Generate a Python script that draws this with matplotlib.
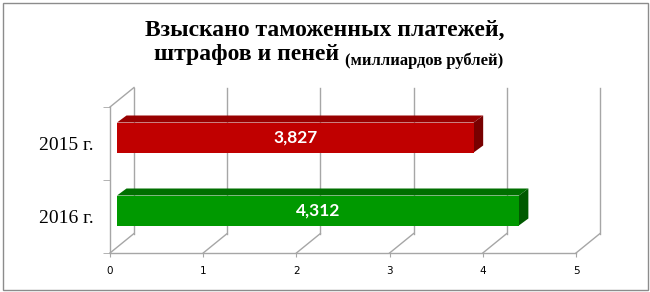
import matplotlib
matplotlib.use("Agg")
import matplotlib.pyplot as plt
from matplotlib.patches import Polygon, Rectangle

years = ["2015 г.", "2016 г."]
values = [3.827, 4.312]
value_labels = ["3,827", "4,312"]
x_ticks = [0, 1, 2, 3, 4, 5]

front_colors = ["#C00000", "#009900"]
top_colors = ["#980000", "#006F00"]
side_colors = ["#780000", "#005A00"]
grid_color = "#A6A6A6"

W, H = 650, 292
fig = plt.figure(figsize=(W / 100, H / 100), dpi=100)

# front plane of the 3d box, pixel box
ax_l, ax_r, ax_t, ax_b = 110, 576, 107, 253
ax = fig.add_axes([ax_l / W, 1 - ax_b / H, (ax_r - ax_l) / W, (ax_b - ax_t) / H])
ax.set_xlim(0, 5)
ax.set_ylim(0, 2)

px_x = (ax_r - ax_l) / 5.0   # pixels per x unit
px_y = (ax_b - ax_t) / 2.0   # pixels per y unit
# depth of the wall, of bar front and of bar back (pixels -> data)
wall_dx, wall_dy = 24 / px_x, 19.5 / px_y
bar_dx, bar_dy = 7 / px_x, 6 / px_y
bdep_dx, bdep_dy = 9.5 / px_x, 7 / px_y
bar_h = 30 / px_y

# back wall gridlines + floor diagonals
for x in x_ticks:
    ax.plot([x + wall_dx, x + wall_dx], [wall_dy, 2 + wall_dy], color=grid_color, lw=1, clip_on=False, zorder=1)
    ax.plot([x, x + wall_dx], [0, wall_dy], color=grid_color, lw=1, clip_on=False, zorder=1)
# left wall top diagonal
ax.plot([0, wall_dx], [2, 2 + wall_dy], color=grid_color, lw=1, clip_on=False, zorder=1)

# bars, 2015 on top
for i, (v, lab) in enumerate(zip(values, value_labels)):
    c = 1.5 - i
    x0, x1 = bar_dx, v + bar_dx
    y0, y1 = c - bar_h / 2 + bar_dy, c + bar_h / 2 + bar_dy
    top = [(x0, y1), (x1, y1), (x1 + bdep_dx, y1 + bdep_dy), (x0 + bdep_dx, y1 + bdep_dy)]
    side = [(x1, y0), (x1 + bdep_dx, y0 + bdep_dy), (x1 + bdep_dx, y1 + bdep_dy), (x1, y1)]
    ax.add_patch(Polygon(top, closed=True, fc=top_colors[i], ec="none", zorder=3, clip_on=False))
    ax.add_patch(Polygon(side, closed=True, fc=side_colors[i], ec="none", zorder=3, clip_on=False))
    ax.add_patch(Rectangle((x0, y0), v, y1 - y0, fc=front_colors[i], ec="none", zorder=4, clip_on=False))
    ax.text((x0 + x1) / 2, (y0 + y1) / 2, lab, color="white", fontsize=12.5, fontweight="bold",
            family="Lato", ha="center", va="center", zorder=5)

# axes: front bottom line + left vertical
for side in ["top", "right"]:
    ax.spines[side].set_visible(False)
for side in ["bottom", "left"]:
    ax.spines[side].set_color(grid_color)
    ax.spines[side].set_linewidth(1)

ax.set_xticks(x_ticks)
ax.set_xticklabels([str(x) for x in x_ticks], fontsize=7.5, family="DejaVu Sans")
ax.tick_params(axis="x", length=3, color=grid_color, pad=6)

ax.set_yticks([0, 1, 2], minor=True)
ax.set_yticks([1.5, 0.5])
ax.set_yticklabels(years, fontsize=14, family="Liberation Serif")
ax.tick_params(axis="y", which="major", length=0, pad=12)
ax.tick_params(axis="y", which="minor", length=5, color=grid_color)
ax.patch.set_alpha(0)

# title
fig.text(0.5, 1 - 36 / H, "Взыскано таможенных платежей,", ha="center", va="baseline",
         fontsize=17, fontweight="bold", family="Liberation Serif")
t2 = fig.text(154 / W, 1 - 60 / H, "штрафов и пеней ", ha="left", va="baseline",
              fontsize=17, fontweight="bold", family="Liberation Serif")
ax.annotate("(миллиардов рублей)", xy=(1, 0), xycoords=t2, va="baseline", ha="left",
            fontsize=12, fontweight="bold", family="Liberation Serif", annotation_clip=False)

# outer frame
fig.patches.append(Rectangle((2.5 / W, 2.5 / H), (W - 5) / W, (H - 5) / H, transform=fig.transFigure,
                             fill=False, ec="#8C8C8C", lw=1))

fig.savefig("out.png", dpi=100)
